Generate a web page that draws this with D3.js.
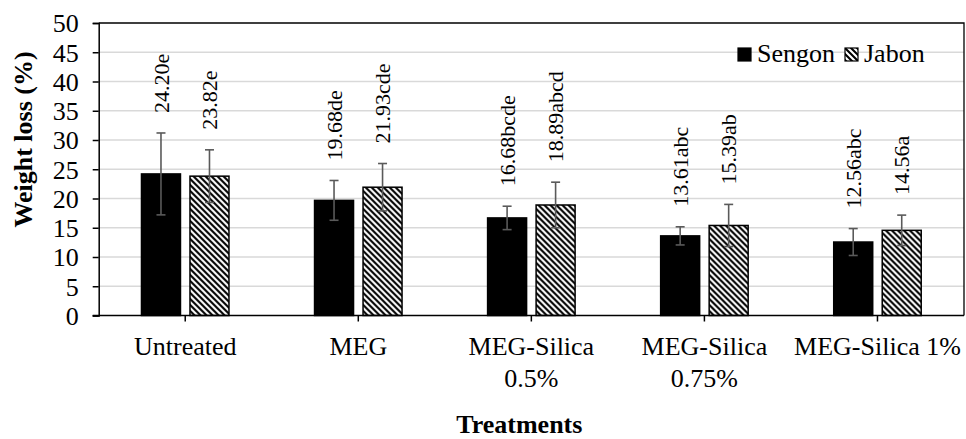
<!DOCTYPE html>
<html>
<head>
<meta charset="utf-8">
<script src="https://cdn.jsdelivr.net/npm/d3@7"></script>
<style>
  html, body { margin: 0; padding: 0; background: #fff; }
  svg { display: block; }
  text { font-family: "Liberation Serif", "Times New Roman", Times, serif; fill: #000; }
</style>
</head>
<body>
<svg id="chart" width="966" height="439"></svg>
<script>
// ---- data ----
const categories = ["Untreated", "MEG", "MEG-Silica 0.5%", "MEG-Silica 0.75%", "MEG-Silica 1%"];
const categoryLines = [["Untreated"], ["MEG"], ["MEG-Silica", "0.5%"], ["MEG-Silica", "0.75%"], ["MEG-Silica 1%"]];
const seriesNames = ["Sengon", "Jabon"];
const sengonValues = [24.20, 19.68, 16.68, 13.61, 12.56];
const jabonValues  = [23.82, 21.93, 18.89, 15.39, 14.56];
const sengonErrors = [7.0, 3.4, 2.0, 1.55, 2.3];
const jabonErrors  = [4.5, 4.05, 3.9, 3.6, 2.6];
const sengonLetters = ["e", "de", "bcde", "abc", "abc"];
const jabonLetters  = ["e", "cde", "abcd", "ab", "a"];
const yTicks = [0, 5, 10, 15, 20, 25, 30, 35, 40, 45, 50];
const yTitle = "Weight loss (%)";
const xTitle = "Treatments";

(function () {
// ---- layout ----
const svg = d3.select("#chart");
const pL = 98.7, pR = 964, pT = 23, pB = 315.5;
const serif = '"Liberation Serif", "Times New Roman", Times, serif';

const x0 = d3.scaleBand().domain(categories).range([pL, pR]).paddingInner(0).paddingOuter(0);
const x1 = d3.scaleBand().domain(seriesNames).range([-43.75, 43.75]).paddingInner(0.196).paddingOuter(0);
const y = d3.scaleLinear().domain([0, 50]).range([pB, pT]);

// hatch pattern
const defs = svg.append("defs");
const pat = defs.append("pattern")
  .attr("id", "hatch")
  .attr("patternUnits", "userSpaceOnUse")
  .attr("width", 6).attr("height", 6);
pat.append("rect").attr("width", 6).attr("height", 6).attr("fill", "#fff");
pat.append("path")
  .attr("d", "M-1,5 L1,7 M0,0 L6,6 M5,-1 L7,1")
  .attr("stroke", "#000").attr("stroke-width", 2.1);

const fills = { Sengon: "#000", Jabon: "url(#hatch)" };

// gridlines
svg.append("g").selectAll("line")
  .data(yTicks.filter(t => t > 0 && t < 50))
  .join("line")
  .attr("x1", pL).attr("x2", pR)
  .attr("y1", d => y(d)).attr("y2", d => y(d))
  .attr("stroke", "#d9d9d9").attr("stroke-width", 1.5);

// plot border (top & right)
svg.append("path")
  .attr("d", `M${pL},${y(50)} H${pR} V${pB}`)
  .attr("fill", "none").attr("stroke", "#000").attr("stroke-width", 1.3);

// y axis
const yAxis = svg.append("g")
  .attr("transform", `translate(${pL},0)`)
  .call(d3.axisLeft(y).tickValues(yTicks).tickSize(6).tickPadding(14).tickFormat(d3.format("d")));
yAxis.attr("font-family", serif);
yAxis.select(".domain").attr("stroke", "#000").attr("stroke-width", 1.5);
yAxis.selectAll(".tick line").attr("stroke", "#000").attr("stroke-width", 1.5);
yAxis.selectAll(".tick text")
  .attr("font-size", 26).attr("fill", "#000")
  .attr("dy", "0.34em");

// bars
const rows = categories.map((c, i) => ({
  cat: c,
  items: [
    { series: "Sengon", value: sengonValues[i], err: sengonErrors[i], letters: sengonLetters[i] },
    { series: "Jabon",  value: jabonValues[i],  err: jabonErrors[i],  letters: jabonLetters[i] }
  ]
}));

const groups = svg.append("g").selectAll("g")
  .data(rows).join("g")
  .attr("transform", d => `translate(${x0(d.cat) + x0.bandwidth() / 2},0)`);

groups.selectAll("rect")
  .data(d => d.items).join("rect")
  .attr("x", d => x1(d.series))
  .attr("width", x1.bandwidth())
  .attr("y", d => y(d.value))
  .attr("height", d => y(0) - y(d.value))
  .attr("fill", d => fills[d.series])
  .attr("stroke", "#000").attr("stroke-width", 1.5);

// error bars
const eb = groups.selectAll("g.eb")
  .data(d => d.items).join("g").attr("class", "eb")
  .attr("stroke", "#5a5a5a").attr("stroke-width", 1.6);
eb.append("line")
  .attr("x1", d => x1(d.series) + x1.bandwidth() / 2)
  .attr("x2", d => x1(d.series) + x1.bandwidth() / 2)
  .attr("y1", d => y(d.value + d.err)).attr("y2", d => y(d.value - d.err));
[1, -1].forEach(s => {
  eb.append("line")
    .attr("x1", d => x1(d.series) + x1.bandwidth() / 2 - 4.5)
    .attr("x2", d => x1(d.series) + x1.bandwidth() / 2 + 4.5)
    .attr("y1", d => y(d.value + s * d.err)).attr("y2", d => y(d.value + s * d.err));
});

// data labels (rotated)
groups.selectAll("text.lbl")
  .data(d => d.items).join("text").attr("class", "lbl")
  .attr("transform", d => `translate(${x1(d.series) + x1.bandwidth() / 2},${y(d.value + d.err) - 20}) rotate(-90)`)
  .attr("dy", "0.35em")
  .attr("text-anchor", "start")
  .attr("font-size", 22)
  .text(d => d.value.toFixed(2) + d.letters);

// x axis
svg.append("line")
  .attr("x1", pL - 6).attr("x2", pR)
  .attr("y1", pB).attr("y2", pB)
  .attr("stroke", "#000").attr("stroke-width", 1.5);
svg.append("g").selectAll("line")
  .data(categories).join("line")
  .attr("x1", d => x0(d) + x0.bandwidth() / 2).attr("x2", d => x0(d) + x0.bandwidth() / 2)
  .attr("y1", pB).attr("y2", pB + 6)
  .attr("stroke", "#000").attr("stroke-width", 1.5);

const xl = svg.append("g").selectAll("text")
  .data(categories).join("text")
  .attr("text-anchor", "middle")
  .attr("font-size", 26)
  .attr("x", d => x0(d) + x0.bandwidth() / 2)
  .attr("y", 355);
xl.selectAll("tspan")
  .data((d, i) => categoryLines[i].map(t => ({ t, x: x0(d) + x0.bandwidth() / 2 })))
  .join("tspan")
  .attr("x", d => d.x)
  .attr("dy", (d, i) => i === 0 ? 0 : 31.5)
  .text(d => d.t);

// axis titles
svg.append("text")
  .attr("text-anchor", "middle")
  .attr("font-size", 26).attr("font-weight", "bold")
  .attr("x", (pL + pR) / 2 - 12).attr("y", 433)
  .text(xTitle);

svg.append("text")
  .attr("text-anchor", "middle")
  .attr("font-size", 26).attr("font-weight", "bold")
  .attr("transform", `translate(32,139.5) rotate(-90)`)
  .text(yTitle);

// legend
const leg = svg.append("g").attr("transform", "translate(738,48)");
let lx = 0;
seriesNames.forEach(name => {
  const g = leg.append("g").attr("transform", `translate(${lx},0)`);
  g.append("rect").attr("width", 13).attr("height", 13)
    .attr("fill", fills[name]).attr("stroke", "#000").attr("stroke-width", 1.2);
  const t = g.append("text").attr("x", 19).attr("y", 14).attr("font-size", 26).text(name);
  lx += 19 + t.node().getComputedTextLength() + 10;
});
})();
</script>
</body>
</html>
